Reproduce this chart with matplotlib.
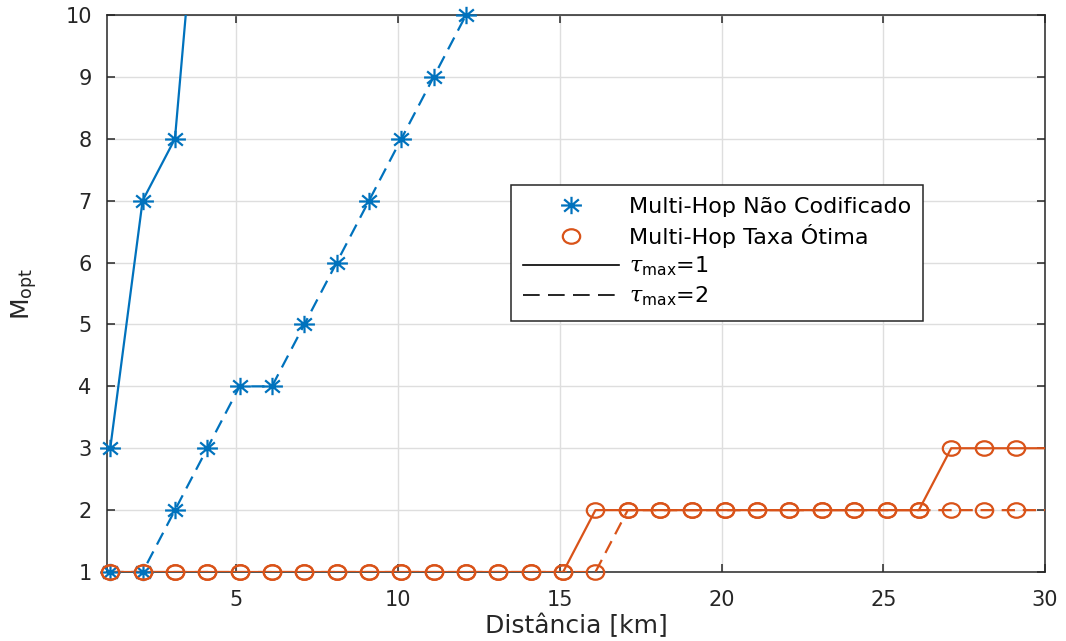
import numpy as np
import matplotlib
matplotlib.use("Agg")
from matplotlib import pyplot as plt
from matplotlib.lines import Line2D
from matplotlib.path import Path

plt.rcParams['font.family'] = ['DejaVu Sans']
plt.rcParams['mathtext.fontset'] = 'custom'
plt.rcParams['mathtext.rm'] = 'DejaVu Sans'
plt.rcParams['mathtext.it'] = 'DejaVu Serif:italic'

# distances [km]
dist_unc_t1 = [1.1, 2.1, 3.1, 4.1]
m_unc_t1 = [3, 7, 8, 14]

dist_unc_t2 = [1.1, 2.1, 3.1, 4.1, 5.1, 6.1, 7.1, 8.1, 9.1, 10.1, 11.1, 12.1, 13.1]
m_unc_t2 = [1, 1, 2, 3, 4, 4, 5, 6, 7, 8, 9, 10, 11]

dist_opt = [1.1, 2.1, 3.1, 4.1, 5.1, 6.1, 7.1, 8.1, 9.1, 10.1,
            11.1, 12.1, 13.1, 14.1, 15.1, 16.1, 17.1, 18.1, 19.1, 20.1,
            21.1, 22.1, 23.1, 24.1, 25.1, 26.1, 27.1, 28.1, 29.1, 30.1]
m_opt_t1 = [1, 1, 1, 1, 1, 1, 1, 1, 1, 1, 1, 1, 1, 1, 1,
            2, 2, 2, 2, 2, 2, 2, 2, 2, 2, 2, 3, 3, 3, 3]
m_opt_t2 = [1, 1, 1, 1, 1, 1, 1, 1, 1, 1, 1, 1, 1, 1, 1, 1,
            2, 2, 2, 2, 2, 2, 2, 2, 2, 2, 2, 2, 2, 2]

legend_labels = ["Multi-Hop Não Codificado", "Multi-Hop Taxa Ótima",
                 r"$\tau_{\mathrm{max}}$=1", r"$\tau_{\mathrm{max}}$=2"]

blue = "#0072BD"
orange = "#D95319"
dark = "#262626"
x_lim = (1, 30)
y_lim = (1, 10)

# slightly wide markers (the reference is stretched horizontally)
stretch = 1.2
d = 0.7071
star = Path([(-stretch, 0), (stretch, 0), (0, -1), (0, 1),
             (-stretch * d, -d), (stretch * d, d), (-stretch * d, d), (stretch * d, -d)],
            [Path.MOVETO, Path.LINETO] * 4)
circ = Path.unit_circle()
ring = Path(circ.vertices * [stretch, 1.0], circ.codes)
dashed = (0, (6, 3.5))


def draw_series(ax, x, y, color, ls, marker, ms):
    x = np.array(x)
    y = np.array(y)
    ax.plot(x, y, color=color, linestyle=ls, linewidth=1.6, zorder=3)
    inside = (x >= x_lim[0]) & (x <= x_lim[1]) & (y >= y_lim[0]) & (y <= y_lim[1])
    ax.plot(x[inside], y[inside], linestyle='none', marker=marker, markersize=ms,
            markeredgecolor=color, markerfacecolor='none', markeredgewidth=1.6,
            clip_on=False, zorder=4)


fig = plt.figure(figsize=(10.66, 6.41), dpi=100)
ax = fig.add_axes([0.1004, 0.1076, 0.8799, 0.869])

draw_series(ax, dist_unc_t1, m_unc_t1, blue, '-', star, 15)
draw_series(ax, dist_unc_t2, m_unc_t2, blue, dashed, star, 15)
draw_series(ax, dist_opt, m_opt_t1, orange, '-', ring, 12.5)
draw_series(ax, dist_opt, m_opt_t2, orange, dashed, ring, 12.5)

ax.set_xlim(*x_lim)
ax.set_ylim(*y_lim)
ax.set_xticks([5, 10, 15, 20, 25, 30])
ax.set_yticks(range(1, 11))
ax.grid(True, color='#dedede', linewidth=1.0)
ax.set_axisbelow(True)
for s in ax.spines.values():
    s.set_color(dark)
    s.set_linewidth(1.1)
ax.tick_params(direction='in', length=6, width=1.1, colors=dark, labelsize=15,
               top=True, right=True)
ax.tick_params(axis='x', pad=13)
ax.tick_params(axis='y', pad=11)

ax.set_xlabel("Distância [km]", fontsize=18, color=dark)
ax.set_ylabel(r"M$_{\mathrm{opt}}$", fontsize=18, color=dark)
ax.xaxis.set_label_coords(0.5, -0.074)
ax.yaxis.set_label_coords(-0.071, 0.5)

handles = [
    Line2D([], [], linestyle='none', marker=star, markersize=15, markeredgecolor=blue,
           markeredgewidth=1.6),
    Line2D([], [], linestyle='none', marker=ring, markersize=12.5, markeredgecolor=orange,
           markerfacecolor='none', markeredgewidth=1.6),
    Line2D([], [], color='black', linestyle='-', linewidth=1.2),
    Line2D([], [], color='black', linestyle=(0, (10, 5)), linewidth=1.2),
]
leg = ax.legend(handles, legend_labels, loc='upper left', bbox_to_anchor=(0.4307, 0.695),
                borderaxespad=0, fontsize=16, frameon=True, fancybox=False,
                handlelength=4.3, handletextpad=0.45, labelspacing=0.3,
                borderpad=0.55)
leg.get_frame().set_edgecolor(dark)
leg.get_frame().set_linewidth(1.1)
leg.get_frame().set_alpha(1)

fig.savefig("out.png", dpi=100)
